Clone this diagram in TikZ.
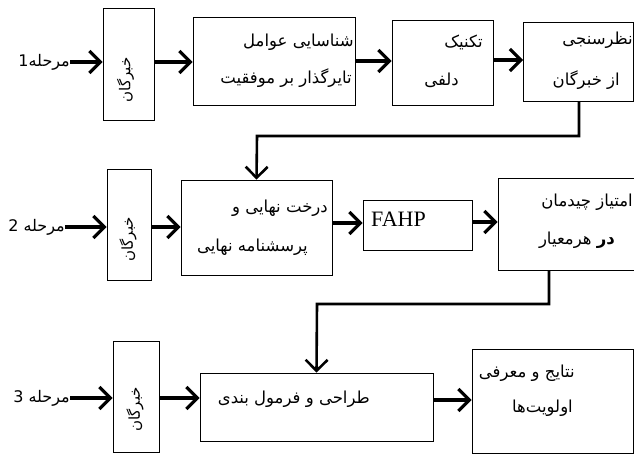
\documentclass[tikz,border=0pt]{standalone}
\usepackage{fontspec}
\setmainfont{Liberation Serif}
\newfontfamily\arabicfont[Script=Arabic]{DejaVu Sans}
\TeXXeTstate=1
\usetikzlibrary{arrows.meta}
\newcommand{\fatxt}[1]{{\arabicfont\beginR #1\endR}}
\tikzset{
  box/.style={draw, line width=0.8pt, inner sep=0pt},
  txt/.style={inner sep=0pt, anchor=east, font=\fontsize{16.5}{18}\selectfont},
  labtxt/.style={inner sep=0pt, anchor=east, font=\fontsize{16}{18}\selectfont},
  vtxt/.style={inner sep=0pt, rotate=90, font=\fontsize{15}{18}\selectfont},
  flow/.style={line width=3.2pt, -{Straight Barb[length=11pt,width=22pt]}},
  elbow/.style={line width=2.6pt, -{Straight Barb[length=11pt,width=22pt]}}
}
\begin{document}
\begin{tikzpicture}[x=1pt,y=-1pt]
\useasboundingbox (0,0) rectangle (634,453);
% Row 1
\node[labtxt] (lab1) at (70,62) {\fatxt{مرحله1}};
\node[box, minimum width=51pt, minimum height=112pt] (xb1) at (128.5,64) {};
\node[vtxt] (xt1) at ([shift={(-3,16)}]xb1.center) {\fatxt{خبرگان}};
\node[box, minimum width=162pt, minimum height=88pt] (b2) at (274,61) {};
\node[txt] (t2a) at (354,42) {\fatxt{شناسایی عوامل}};
\node[txt] (t2b) at (352,78) {\fatxt{تایرگذار بر موفقیت}};
\node[box, minimum width=101pt, minimum height=85pt] (b3) at (442.5,62.5) {};
\node[txt] (t3a) at (483,42) {\fatxt{تکنیک}};
\node[txt] (t3b) at (459,80) {\fatxt{دلفی}};
\node[box, minimum width=110pt, minimum height=79pt] (b4) at (578.5,61.5) {};
\node[txt] (t4a) at (633,40) {\fatxt{نظرسنجی}};
\node[txt] (t4b) at (620,80) {\fatxt{از خبرگان}};
\draw[flow] (lab1.east |- 0,62) -- (xb1.west |- 0,62);
\draw[flow] (xb1.east |- 0,62) -- (b2.west |- 0,62);
\draw[flow] (b2.east |- 0,61) -- (b3.west |- 0,61);
\draw[flow] (b3.east |- 0,60) -- (b4.west |- 0,60);
% Row 2
\node[labtxt] (lab2) at (65,227) {\fatxt{مرحله 2}};
\node[box, minimum width=44pt, minimum height=111pt] (xb2) at (129,224.5) {};
\node[vtxt] (xt2) at ([shift={(-1,15)}]xb2.center) {\fatxt{خبرگان}};
\node[box, minimum width=151pt, minimum height=95pt] (b5) at (256.5,227.5) {};
\node[txt] (t5a) at (328,208) {\fatxt{درخت نهایی و}};
\node[txt] (t5b) at (308,247) {\fatxt{پرسشنامه نهایی}};
\node[box, minimum width=109pt, minimum height=50pt] (b6) at (417.5,225) {};
\node[inner sep=0pt, anchor=west, font=\fontsize{22}{24}\selectfont] (t6) at (371,219) {FAHP};
\node[box, minimum width=136pt, minimum height=92pt] (b7) at (566,224) {};
\node[txt] (t7a) at (633,202) {\fatxt{امتیاز چیدمان}};
\node[txt] (t7b) at (615,240) {\fatxt{\textbf{در} هرمعیار}};
\draw[flow] (lab2.east |- 0,227) -- (xb2.west |- 0,227);
\draw[flow] (xb2.east |- 0,227) -- (b5.west |- 0,227);
\draw[flow] (b5.east |- 0,223) -- (b6.west |- 0,223);
\draw[flow] (b6.east |- 0,222) -- (b7.west |- 0,222);
% Row 3
\node[labtxt] (lab3) at (70,398) {\fatxt{مرحله 3}};
\node[box, minimum width=46pt, minimum height=111pt] (xb3) at (136,396.5) {};
\node[vtxt] (xt3) at ([shift={(-1,13)}]xb3.center) {\fatxt{خبرگان}};
\node[box, minimum width=233pt, minimum height=68pt] (b8) at (316.5,407) {};
\node[txt] (t8) at (370,399) {\fatxt{طراحی و فرمول بندی}};
\node[box, minimum width=161pt, minimum height=104pt] (b9) at (552.5,401) {};
\node[txt] (t9a) at (575,373) {\fatxt{نتایج و معرفی}};
\node[txt] (t9b) at (573,408) {\fatxt{اولویت‌ها}};
\draw[flow] (lab3.east |- 0,398) -- (xb3.west |- 0,398);
\draw[flow] (xb3.east |- 0,398) -- (b8.west |- 0,398);
\draw[flow] (b8.east |- 0,400) -- (b9.west |- 0,400);
% Elbow connectors
\draw[elbow] (b4.south -| 579,0) |- (257,136) -- (b5.north);
\draw[elbow] (b7.south -| 549,0) |- (317,304) -- (b8.north);
\end{tikzpicture}
\end{document}
